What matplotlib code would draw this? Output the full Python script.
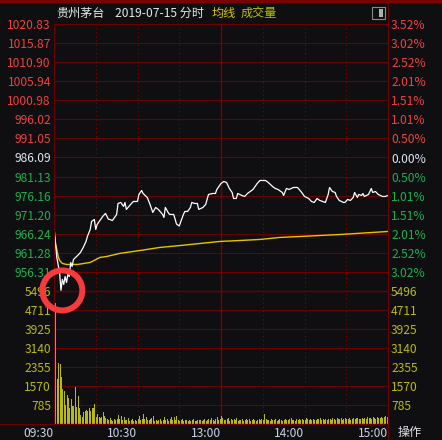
import matplotlib
matplotlib.use("Agg")
import matplotlib.pyplot as plt
from matplotlib.patches import Rectangle, Circle
from matplotlib.lines import Line2D
from matplotlib.transforms import ScaledTranslation

plt.rcParams['font.family'] = ['Noto Sans CJK SC', 'DejaVu Sans']

# minutes since 09:30 (trading minutes, 11:30 and 13:00 share index 120)
price_minutes = [0, 1, 2, 4, 5, 6, 7, 8, 9, 10, 11, 12, 13, 14, 17, 19, 21, 23, 24, 26,
                 27, 29, 30, 31, 33, 35, 37, 39, 42, 45, 46, 48, 50, 51, 52, 55, 57, 60, 61, 63,
                 64, 67, 69, 71, 73, 75, 78, 79, 80, 82, 83, 86, 87, 88, 90, 91, 93, 94, 96, 98,
                 99, 101, 103, 104, 107, 109, 111, 114, 116, 117, 120, 122, 124, 126, 128, 129, 131, 132, 135, 137,
                 139, 141, 143, 146, 148, 152, 154, 157, 159, 161, 164, 165, 167, 169, 172, 175, 178, 180, 183, 185,
                 187, 189, 191, 193, 195, 197, 198, 200, 202, 203, 205, 208, 209, 211, 213, 215, 216, 218, 219, 221,
                 222, 223, 226, 228, 229, 231, 233, 236, 238, 240]
price_values = [968.14, 963.98, 960.08, 956.18, 951.50, 954.36, 953.06, 955.14, 953.58, 955.66,
                955.14, 958.78, 957.74, 959.56, 960.60, 961.38, 962.68, 964.24, 965.54, 967.36,
                969.44, 969.97, 967.36, 968.66, 969.70, 970.75, 971.53, 970.08, 969.70, 971.27,
                974.13, 974.39, 973.35, 974.39, 972.57, 973.87, 974.65, 974.65, 976.47, 977.51,
                976.73, 975.69, 973.87, 971.79, 973.09, 972.57, 971.27, 970.49, 973.09, 971.79,
                971.27, 971.27, 970.08, 968.78, 968.26, 969.30, 971.27, 972.05, 972.05, 973.09,
                974.39, 974.13, 974.13, 972.57, 973.09, 973.87, 976.47, 976.73, 976.73, 977.77,
                979.33, 979.85, 979.59, 978.03, 976.99, 975.43, 975.43, 976.73, 976.21, 975.95,
                976.73, 977.25, 977.77, 979.33, 980.11, 980.11, 979.59, 978.55, 978.03, 977.77,
                976.99, 976.21, 978.03, 977.77, 978.29, 978.29, 976.99, 975.95, 975.43, 974.65,
                974.39, 975.43, 974.91, 974.65, 974.39, 976.47, 978.29, 977.25, 976.99, 975.95,
                974.91, 974.39, 974.39, 975.17, 974.91, 975.69, 976.99, 975.69, 976.47, 976.21,
                976.73, 975.95, 976.47, 978.03, 976.99, 977.25, 976.47, 975.95, 975.95, 976.21]

avg_minutes = [0, 1, 2, 3, 4, 6, 9, 17, 26, 33, 38, 47, 62, 76, 91, 105, 119, 134, 148, 162,
               177, 206, 240]
avg_values = [966.58, 963.72, 962.16, 960.34, 959.30, 958.52, 958.26, 958.26, 958.78, 960.08,
              960.34, 961.12, 961.90, 962.68, 963.20, 963.72, 964.24, 964.50, 964.76, 965.28,
              965.54, 966.06, 966.84]

volumes = [
    5040, 4980, 1860, 2520, 2480, 1940, 1445, 1360, 785, 1200,
    1075, 660, 1030, 745, 745, 1530, 700, 1155, 660, 370,
    290, 495, 540, 580, 540, 660, 540, 660, 660, 825,
    290, 410, 290, 250, 290, 495, 330, 250,
    200, 170, 250, 180, 140, 220, 160, 190, 370, 210,
    330, 180, 300, 150, 170, 240, 130, 160, 200, 140,
    180, 120, 210, 330, 160, 200, 410, 220, 300, 170,
    150, 190, 230, 320, 140, 180, 120, 160, 200, 130,
    170, 290, 150, 190, 140, 220, 300, 160, 290, 180,
    330, 150, 130, 170, 200, 120, 150, 180, 140, 160,
    130, 170, 190, 140, 120, 160, 180, 150, 130, 170,
    200, 140, 160, 190, 150, 250, 170, 140, 200, 280,
    180, 220, 330, 240, 180, 160, 200, 250, 140, 220,
    170, 190, 150, 230, 130, 180, 160, 200, 140, 170,
    190, 150, 210, 130, 170, 200, 160, 140, 180, 220,
    150, 190, 170, 410, 200, 160, 180, 140, 210, 170,
    150, 190, 130, 170, 200, 160, 140, 180, 210, 150,
    170, 190, 230, 160, 180, 140, 200, 170, 190, 150,
    210, 180, 160, 230, 190, 150, 200, 170, 220, 180,
    160, 210, 190, 240, 170, 200, 180, 220, 160, 190,
    210, 180, 240, 200, 170, 230, 190, 210, 250, 180,
    200, 230, 190, 220, 250, 180, 210, 240, 200, 230,
    260, 190, 220, 250, 210, 240, 200, 270, 230, 250,
    220, 280, 240, 210, 290, 250, 230, 300, 260, 280,
    320, 290, 330]

price_labels = ["1020.83", "1015.87", "1010.90", "1005.94", "1000.98", "996.02", "991.05",
                "986.09", "981.13", "976.16", "971.20", "966.24", "961.28", "956.31"]
pct_labels = ["3.52%", "3.02%", "2.52%", "2.01%", "1.51%", "1.01%", "0.50%",
              "0.00%", "0.50%", "1.01%", "1.51%", "2.01%", "2.52%", "3.02%"]
price_bottom = 951.35
vol_labels = ["5496", "4711", "3925", "3140", "2355", "1570", "785"]
time_ticks = [0, 60, 120, 180, 240]
time_labels = ["09:30", "10:30", "13:00", "14:00", "15:00"]
dotted_minutes = [30, 60, 90, 150, 180, 210]
break_minute = 120

BG = "#0f0f12"
GRID = "#6a0000"
RED = "#f04040"
GREEN = "#1bb04c"
WHITE = "#dde5f2"
VOLC = "#b9b910"
FS = 8.7
W, H = 442, 440


def style_axis(ax):
    ax.set_facecolor("none")
    for s in ax.spines.values():
        s.set_color(GRID)
        s.set_linewidth(0.8)
    ax.tick_params(length=0, labelsize=FS)
    ax.set_xlim(0, 240)


def draw_verticals(ax):
    for m in dotted_minutes:
        ax.axvline(m, color="#8a0000", lw=0.75, ls=(0, (1, 3)), zorder=1)
    ax.axvline(break_minute, color="#7a0000", lw=1.0, zorder=1)


fig = plt.figure(figsize=(W / 100, H / 100), dpi=100, facecolor=BG)

ax_p = fig.add_axes([54 / W, 1 - 291 / H, 334 / W, 267 / H])
ax_v = fig.add_axes([54 / W, 1 - 424 / H, 334 / W, 133 / H])

# price panel
price_ticks = [float(s) for s in price_labels]
style_axis(ax_p)
ax_p.set_ylim(price_bottom, price_ticks[0])
ax_p.set_yticks(price_ticks)
ax_p.set_yticklabels(price_labels)
ax_p.set_xticks([])
ax_p.tick_params(axis="y", pad=2.2)
for t in price_ticks:
    ax_p.axhline(t, color=GRID, lw=0.8, zorder=1)
draw_verticals(ax_p)
center = 7
for k, lab in enumerate(ax_p.get_yticklabels()):
    lab.set_color(RED if k < center else (WHITE if k == center else GREEN))

ax_pr = ax_p.twinx()
style_axis(ax_pr)
ax_pr.set_ylim(ax_p.get_ylim())
ax_pr.set_yticks(price_ticks)
ax_pr.set_yticklabels(pct_labels)
ax_pr.tick_params(axis="y", pad=2.2)
for k, lab in enumerate(ax_pr.get_yticklabels()):
    lab.set_color(RED if k < center else (WHITE if k == center else GREEN))

ax_p.plot(avg_minutes, avg_values, color="#e8c400", lw=1.0, zorder=3)
ax_p.plot(price_minutes, price_values, color="white", lw=0.9, zorder=4)

# volume panel
vol_ticks = [float(s) for s in vol_labels]
style_axis(ax_v)
ax_v.set_ylim(0, vol_ticks[0])
ax_v.bar(range(len(volumes)), volumes, width=0.72, align="edge", color=VOLC, lw=0, zorder=2)
ax_v.set_yticks(vol_ticks)
ax_v.set_yticklabels(vol_labels, color=VOLC)
ax_v.tick_params(axis="y", pad=2.2)
ax_v.tick_params(axis="x", pad=2.5, colors="#c8d2e6")
for t in vol_ticks:
    ax_v.axhline(t, color=GRID, lw=0.8, zorder=1)
ax_v.axhline(vol_ticks[0], color=GRID, lw=1.6, zorder=1)
draw_verticals(ax_v)
ax_v.set_xticks(time_ticks)
ax_v.set_xticklabels(time_labels, ha="right")

ax_vr = ax_v.twinx()
style_axis(ax_vr)
ax_vr.set_ylim(ax_v.get_ylim())
ax_vr.set_yticks(vol_ticks)
ax_vr.set_yticklabels(vol_labels, color=VOLC)
ax_vr.tick_params(axis="y", pad=2.2)

# frame decorations
fig.add_artist(Rectangle((0, 1 - 3 / H), 1, 3 / H, transform=fig.transFigure,
                         color="#7a0000", lw=0))
fig.add_artist(Line2D([388 / W, 388 / W], [0, 1], transform=fig.transFigure,
                      color=GRID, lw=0.8))
fig.add_artist(Line2D([0, 388 / W], [16 / H, 16 / H], transform=fig.transFigure,
                      color=GRID, lw=0.8))

# header
fig.text(56 / W, 1 - 13 / H, "贵州茅台", color="#e6e6e6", fontsize=FS, va="center")
fig.text(115 / W, 1 - 13 / H, "2019-07-15 分时", color="#e6e6e6", fontsize=FS, va="center")
fig.text(212 / W, 1 - 13 / H, "均线", color="#d8c800", fontsize=FS, va="center")
fig.text(241 / W, 1 - 13 / H, "成交量", color="#b8c000", fontsize=FS, va="center")
fig.add_artist(Rectangle((372 / W, 1 - 19 / H), 13 / W, 12 / H, transform=fig.transFigure,
                         fill=False, ec="#8a8a8a", lw=0.8))
fig.add_artist(Rectangle((379 / W, 1 - 17 / H), 4 / W, 8 / H, transform=fig.transFigure,
                         color="#b0b0b0", lw=0))
fig.text(398 / W, 1 - 432 / H, "操作", color="#e0e0e0", fontsize=FS, va="center")

# red ring around the intraday low
low_idx = price_values.index(min(price_values))
ring_trans = fig.dpi_scale_trans + ScaledTranslation(
    price_minutes[low_idx] + 1, price_values[low_idx], ax_p.transData)
fig.add_artist(Circle((0, 0), 0.2, transform=ring_trans, fill=False,
                      ec="#f53b3b", lw=4.3, zorder=10))

fig.savefig("out.png", dpi=100, facecolor=BG)
